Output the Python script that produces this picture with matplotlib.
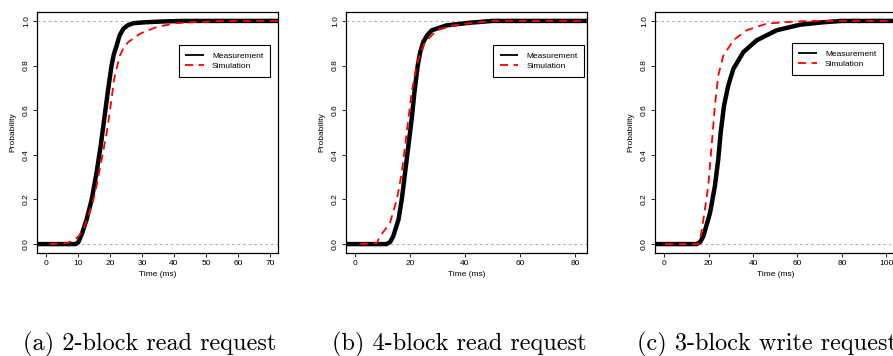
import matplotlib
matplotlib.use("Agg")
from matplotlib import pyplot as plt

# panel (a) 2-block read request
a_meas_t = [-5, 9.3, 10.1, 11.2, 12.7, 14.3, 15.8, 17.1, 18.2, 19.3, 20.5, 21.2, 22.1, 23.0, 24.2, 25.5, 27.3, 31, 35.6, 42, 80]
a_meas_p = [0, 0.0, 0.008, 0.045, 0.11, 0.20, 0.32, 0.44, 0.56, 0.68, 0.80, 0.85, 0.89, 0.935, 0.965, 0.98, 0.99, 0.994, 0.997, 1.0, 1.0]
a_sim_t = [1.2, 6.5, 8.5, 10.2, 11.7, 14.3, 15.8, 17.4, 19.0, 20.2, 21.3, 23.1, 24.3, 25.7, 29.4, 34.6, 40.8, 47, 55, 80]
a_sim_p = [0, 0.005, 0.015, 0.035, 0.065, 0.17, 0.26, 0.38, 0.50, 0.62, 0.74, 0.845, 0.88, 0.905, 0.943, 0.973, 0.99, 0.995, 1.0, 1.0]

# panel (b) 4-block read request
b_meas_t = [-5, 11.5, 12.8, 13.9, 15.8, 17.0, 18.2, 19.4, 20.6, 21.6, 22.8, 23.7, 24.8, 26.2, 27.9, 33.3, 41.8, 50, 90]
b_meas_p = [0, 0.0, 0.01, 0.035, 0.11, 0.20, 0.32, 0.44, 0.56, 0.68, 0.80, 0.86, 0.905, 0.935, 0.958, 0.98, 0.992, 1.0, 1.0]
b_sim_t = [1.8, 7.9, 9.1, 12.7, 15.2, 17.0, 18.2, 19.4, 20.6, 22.4, 23.8, 25.5, 29.7, 35.8, 41.8, 50, 90]
b_sim_p = [0, 0.005, 0.035, 0.095, 0.20, 0.32, 0.44, 0.56, 0.68, 0.80, 0.86, 0.905, 0.958, 0.98, 0.99, 1.0, 1.0]

# panel (c) 3-block write request
c_meas_t = [-5, 14.6, 16.2, 17.6, 20.6, 22.8, 24.3, 25.4, 26.9, 28.8, 31.1, 35.6, 41.6, 50.6, 61.1, 71.6, 80, 110]
c_meas_p = [0, 0.0, 0.01, 0.035, 0.14, 0.26, 0.38, 0.50, 0.62, 0.71, 0.785, 0.86, 0.913, 0.958, 0.983, 0.994, 1.0, 1.0]
c_sim_t = [0.3, 15.3, 16.5, 17.6, 19.8, 21.3, 22.8, 24.3, 26.6, 31.1, 37.1, 46.1, 56.6, 65, 110]
c_sim_p = [0, 0.0, 0.04, 0.11, 0.26, 0.44, 0.62, 0.755, 0.845, 0.913, 0.958, 0.988, 0.996, 1.0, 1.0]

panels = [
    (a_meas_t, a_meas_p, a_sim_t, a_sim_p, (-2.8, 72.5), [0, 10, 20, 30, 40, 50, 60, 70],
     "(a) 2-block read request", 0.967, 0.863),
    (b_meas_t, b_meas_p, b_sim_t, b_sim_p, (-3.3, 84.4), [0, 20, 40, 60, 80],
     "(b) 4-block read request", 0.988, 0.863),
    (c_meas_t, c_meas_p, c_sim_t, c_sim_p, (-4.2, 104.4), [0, 20, 40, 60, 80, 100],
     "(c) 3-block write request", 0.946, 0.871),
]
yticks = [0.0, 0.2, 0.4, 0.6, 0.8, 1.0]
lefts = [37, 346, 655]
cap_x = [150, 459, 767]

W, H = 893, 356
fig = plt.figure(figsize=(W / 100, H / 100), dpi=100)
sans = "Liberation Sans"

for left, cx, (mt, mp, st, sp, xlim, xticks, caption, lx, ly) in zip(lefts, cap_x, panels):
    ax = fig.add_axes([left / W, (H - 253) / H, 241 / W, 241 / H])
    ax.axhline(0, color="#b3b3b3", lw=0.8, ls=(0, (2.5, 2.5)), zorder=1)
    ax.axhline(1, color="#b3b3b3", lw=0.8, ls=(0, (2.5, 2.5)), zorder=1)
    ax.plot(mt, mp, color="black", lw=3.2, solid_capstyle="butt", label="Measurement", zorder=2)
    ax.plot(st, sp, color="red", lw=1.3, ls=(0, (4.5, 3)), label="Simulation", zorder=3)
    ax.set_xlim(*xlim)
    ax.set_ylim(-0.04, 1.04)
    ax.set_xticks(xticks)
    ax.set_yticks(yticks)
    ax.set_yticklabels(["%.1f" % v for v in yticks], rotation=90, va="center")
    ax.tick_params(labelsize=6, length=2.6, width=0.6, pad=2.5)
    for lab in ax.get_xticklabels() + ax.get_yticklabels():
        lab.set_fontfamily(sans)
    for s in ax.spines.values():
        s.set_linewidth(0.9)
    ax.set_xlabel("Time (ms)", fontsize=6, family=sans, labelpad=3)
    ax.set_ylabel("Probability", fontsize=6, family=sans, labelpad=5)
    leg = ax.legend(loc="upper right", bbox_to_anchor=(lx, ly), fontsize=6,
                    prop={"family": sans, "size": 6}, frameon=True, fancybox=False,
                    edgecolor="black", framealpha=1, borderpad=0.8, handlelength=2.2,
                    handletextpad=1.0, labelspacing=0.3, borderaxespad=0)
    leg.get_frame().set_linewidth(0.8)
    for h in leg.get_lines():
        h.set_linewidth(1.3)
    fig.text(cx / W, 1 - 344 / H, caption, ha="center", va="center",
             fontsize=17.5, family="cmr10")

fig.savefig("out.png", dpi=100)
